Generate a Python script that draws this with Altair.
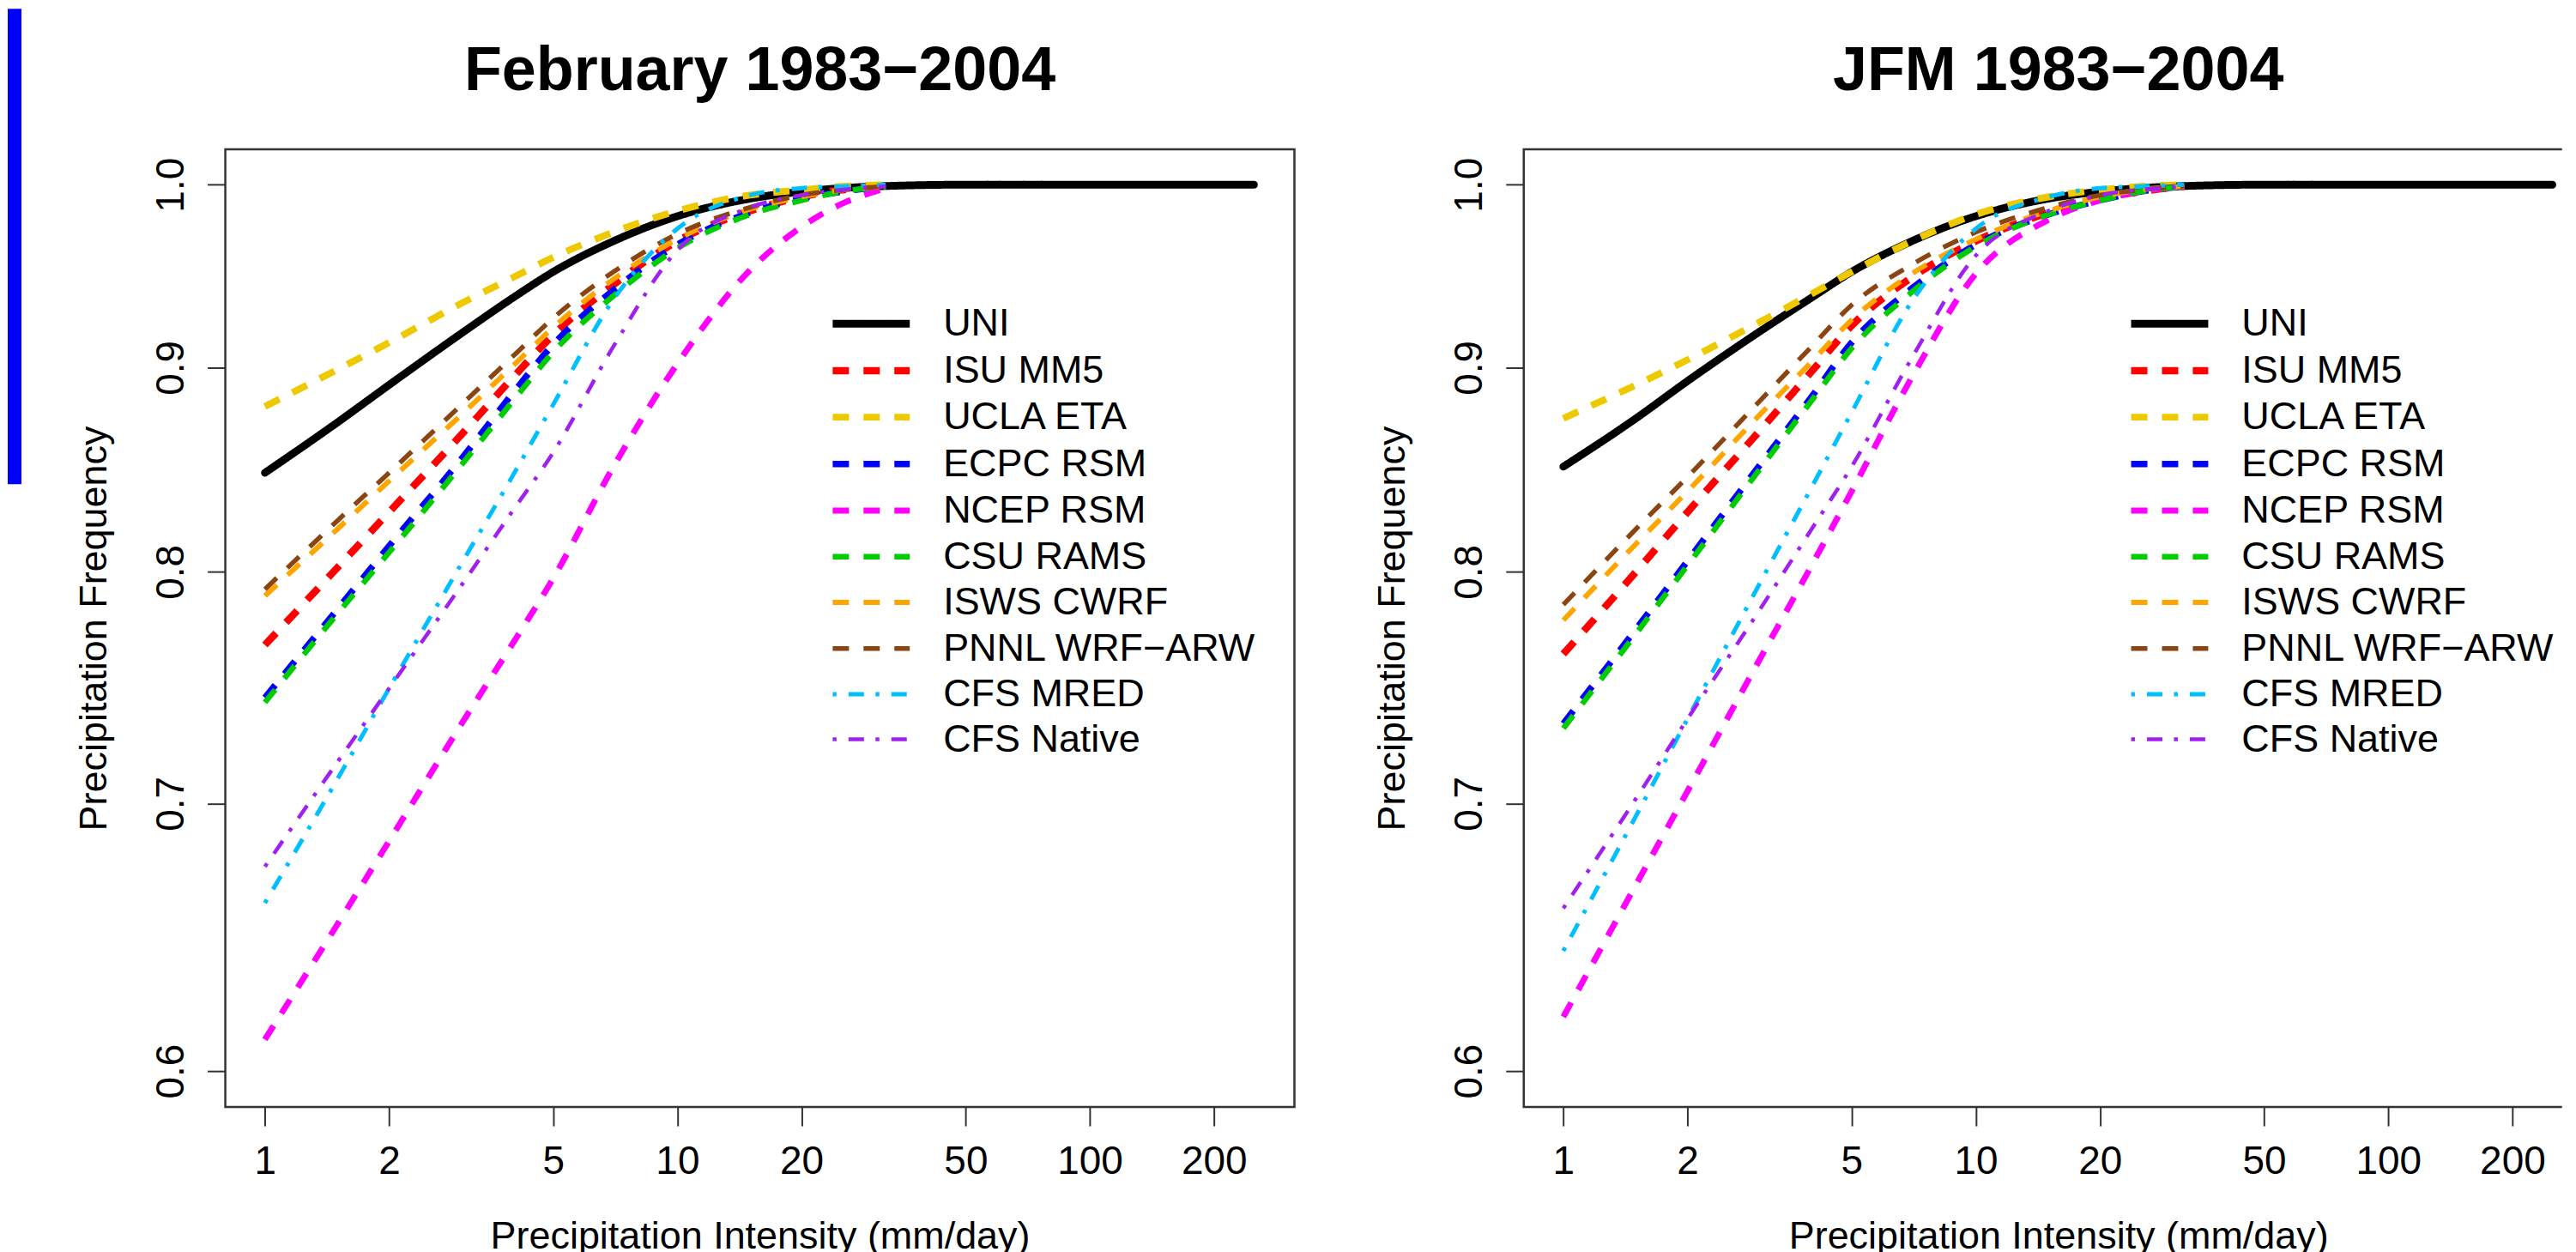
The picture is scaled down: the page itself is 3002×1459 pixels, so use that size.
import altair as alt
import pandas as pd

FONT = "Liberation Sans"

MODELS = ["UNI", "ISU MM5", "UCLA ETA", "ECPC RSM", "NCEP RSM", "CSU RAMS",
          "ISWS CWRF", "PNNL WRF−ARW", "CFS MRED", "CFS Native"]
COLORS = ["#000000", "#FF0000", "#EEC900", "#0000FF", "#FF00FF", "#00CD00",
          "#FFA500", "#8B4513", "#00BFFF", "#A020F0"]
DASH = [19, 17]
DOTDASH = [4.5, 14, 18, 13.5]
DASHES = [[1, 0], DASH, DASH, DASH, DASH, DASH, DASH, DASH, DOTDASH, DOTDASH]
WIDTHS = [9, 4.5, 4.5, 4.5, 4.5, 4.5, 4.5, 4.5, 4.5, 4.5]

X_TICKS = [1, 2, 5, 10, 20, 50, 100, 200]
Y_TICKS = [0.6, 0.7, 0.8, 0.9, 1.0]

# intensities (mm/day)
X_UNI = [1, 1.5, 2, 3, 4, 5, 7, 10, 15, 20, 30, 50, 100, 250]
X_MOD = [1, 1.5, 2, 3, 4, 5, 7, 10, 15, 20, 25, 32]

# ---- February 1983-2004 ----
FEB_UNI = [0.847, 0.872, 0.891, 0.918, 0.937, 0.951, 0.968, 0.982, 0.992, 0.996, 0.999, 1.0, 1.0, 1.0]
FEB_ISU = [0.767, 0.802, 0.828, 0.866, 0.895, 0.917, 0.944, 0.968, 0.985, 0.993, 0.997, 0.999]
FEB_UCLA = [0.880, 0.899, 0.913, 0.934, 0.948, 0.959, 0.973, 0.985, 0.994, 0.997, 0.999, 1.0]
FEB_ECPC = [0.744, 0.783, 0.812, 0.854, 0.887, 0.912, 0.941, 0.966, 0.984, 0.992, 0.996, 0.999]
FEB_NCEP = [0.611, 0.653, 0.685, 0.733, 0.768, 0.797, 0.850, 0.902, 0.952, 0.976, 0.989, 0.998]
FEB_CSU = [0.742, 0.781, 0.809, 0.851, 0.883, 0.908, 0.938, 0.964, 0.983, 0.991, 0.996, 0.999]
FEB_ISWS = [0.789, 0.820, 0.843, 0.876, 0.901, 0.921, 0.947, 0.969, 0.986, 0.993, 0.997, 0.999]
FEB_PNNL = [0.792, 0.824, 0.847, 0.881, 0.906, 0.926, 0.951, 0.972, 0.987, 0.994, 0.997, 0.999]
FEB_MRED = [0.661, 0.710, 0.748, 0.804, 0.846, 0.881, 0.936, 0.975, 0.994, 0.998, 0.999, 1.0]
FEB_NATIVE = [0.675, 0.717, 0.748, 0.794, 0.829, 0.857, 0.911, 0.963, 0.987, 0.994, 0.997, 0.999]

# ---- JFM 1983-2004 ----
JFM_UNI = [0.850, 0.874, 0.893, 0.919, 0.937, 0.951, 0.968, 0.982, 0.992, 0.996, 0.999, 1.0, 1.0, 1.0]
JFM_ISU = [0.763, 0.800, 0.828, 0.868, 0.898, 0.922, 0.948, 0.968, 0.984, 0.992, 0.996, 0.999]
JFM_UCLA = [0.874, 0.891, 0.904, 0.924, 0.939, 0.951, 0.968, 0.983, 0.993, 0.997, 0.999, 1.0]
JFM_ECPC = [0.733, 0.774, 0.805, 0.851, 0.885, 0.913, 0.942, 0.966, 0.983, 0.991, 0.996, 0.999]
JFM_NCEP = [0.619, 0.668, 0.705, 0.761, 0.803, 0.838, 0.895, 0.950, 0.980, 0.991, 0.996, 0.999]
JFM_CSU = [0.731, 0.772, 0.803, 0.849, 0.883, 0.910, 0.940, 0.965, 0.983, 0.991, 0.996, 0.999]
JFM_ISWS = [0.778, 0.813, 0.838, 0.876, 0.903, 0.925, 0.950, 0.969, 0.985, 0.993, 0.997, 0.999]
JFM_PNNL = [0.785, 0.820, 0.845, 0.883, 0.911, 0.933, 0.955, 0.973, 0.987, 0.994, 0.997, 0.999]
JFM_MRED = [0.643, 0.695, 0.735, 0.795, 0.840, 0.877, 0.935, 0.975, 0.993, 0.998, 0.999, 1.0]
JFM_NATIVE = [0.659, 0.702, 0.735, 0.783, 0.820, 0.850, 0.905, 0.960, 0.985, 0.994, 0.997, 0.999]

FEB = [FEB_UNI, FEB_ISU, FEB_UCLA, FEB_ECPC, FEB_NCEP, FEB_CSU, FEB_ISWS, FEB_PNNL, FEB_MRED, FEB_NATIVE]
JFM = [JFM_UNI, JFM_ISU, JFM_UCLA, JFM_ECPC, JFM_NCEP, JFM_CSU, JFM_ISWS, JFM_PNNL, JFM_MRED, JFM_NATIVE]


def to_df(series):
    rows = []
    for name, vals in zip(MODELS, series):
        xs = X_UNI if name == "UNI" else X_MOD
        for xv, yv in zip(xs, vals):
            rows.append({"model": name, "x": xv, "y": yv})
    return pd.DataFrame(rows)


XMIN = 0.8017
XMAX_L = 313.3
XMAX_R = 263.8
YMIN = 0.58765
YMAX = 1.02064
W_L = 1248
W_R = 1212
W_NOMINAL = 1248
H = 1118
FRAME = "#333333"


def make_panel(df, title, width, xmax, is_left, dx):
    xs = alt.Scale(type="log", domain=[XMIN, xmax], nice=False)
    ys = alt.Scale(type="log", domain=[YMIN, YMAX], nice=False, zero=False)
    xaxis = alt.Axis(values=X_TICKS, format="~g", labelFontSize=46, labelFont=FONT,
                     labelColor="black", labelFlush=False, labelOverlap=False,
                     labelBaseline="alphabetic", labelPadding=56, tickSize=22,
                     tickWidth=2, tickColor=FRAME, grid=False, domain=False,
                     title="Precipitation Intensity (mm/day)", titleFont=FONT,
                     titleFontSize=45, titleFontWeight="normal", titleColor="black",
                     titleX=W_NOMINAL / 2, titleY=165, titleAlign="center",
                     titleBaseline="alphabetic")
    yaxis = alt.Axis(values=Y_TICKS, format=".1f", labelFontSize=46, labelFont=FONT,
                     labelColor="black", labelFlush=False, labelOverlap=False,
                     labelAngle=270, labelAlign="center", labelBaseline="alphabetic",
                     labelPadding=28, tickSize=21, tickWidth=2, tickColor=FRAME,
                     grid=False, domain=False,
                     title="Precipitation Frequency", titleFont=FONT, titleFontSize=45,
                     titleFontWeight="normal", titleColor="black", titleAngle=270,
                     titleX=-139.5, titleY=H / 2, titleAlign="center",
                     titleBaseline="alphabetic")
    leg = alt.Legend(orient="none", legendX=727, legendY=176.6, title=None,
                     symbolType="M-2,0L2,0", symbolSize=2025, labelFont=FONT,
                     labelFontSize=45, labelColor="black", labelOffset=57,
                     rowPadding=4.8, padding=0, labelLimit=900)
    enc = dict(
        x=alt.X("x:Q", scale=xs, axis=xaxis),
        y=alt.Y("y:Q", scale=ys, axis=yaxis),
        color=alt.Color("model:N", scale=alt.Scale(domain=MODELS, range=COLORS), legend=leg),
        strokeDash=alt.StrokeDash("model:N", scale=alt.Scale(domain=MODELS, range=DASHES), legend=leg),
        strokeWidth=alt.StrokeWidth("model:N", scale=alt.Scale(domain=MODELS, range=WIDTHS), legend=leg),
    )
    base = alt.Chart(df)
    uni = base.transform_filter(alt.datum.model == "UNI").mark_line(
        strokeCap="round", interpolate="monotone").encode(**enc)
    mods = base.transform_filter(alt.datum.model != "UNI").mark_line(
        strokeCap="butt", interpolate="monotone").encode(**enc)
    ttl = alt.Title(title, fontSize=72, font=FONT, fontWeight="bold", color="black",
                    anchor="middle", frame="group", offset=-3, baseline="alphabetic",
                    dx=dx)
    if is_left:
        view = alt.ViewBackground(stroke=FRAME, strokeWidth=2.5)
    else:
        # frame without its right side (the reference is cut at the right edge)
        view = alt.ViewBackground(stroke=FRAME, strokeWidth=2.5,
                                  strokeDash=[width, H, width + H, 10])
    return alt.layer(uni, mods).properties(width=width, height=H, title=ttl, view=view)


left = make_panel(to_df(FEB), "February 1983−2004", W_L, XMAX_L, True, 0)
right = make_panel(to_df(JFM), "JFM 1983−2004", W_R, XMAX_R, False, (W_NOMINAL - W_R) / 2)

blue = alt.Chart(alt.Data(values=[{"k": 0}])).mark_rect(color="#0000FF").encode(
    x=alt.value(0), x2=alt.value(16), y=alt.value(-164), y2=alt.value(391)
).properties(width=16, height=10, view=alt.ViewBackground(stroke="transparent"))

panels = alt.hconcat(left, right, spacing=267.7, bounds="flush").resolve_scale(
    color="independent", strokeDash="independent", strokeWidth="independent")

chart = alt.hconcat(blue, panels, spacing=238, bounds="flush").resolve_scale(
    color="independent", strokeDash="independent", strokeWidth="independent"
).properties(padding=0, background="white")

chart.save("out.html", embed_options={"renderer": "svg", "actions": False})
